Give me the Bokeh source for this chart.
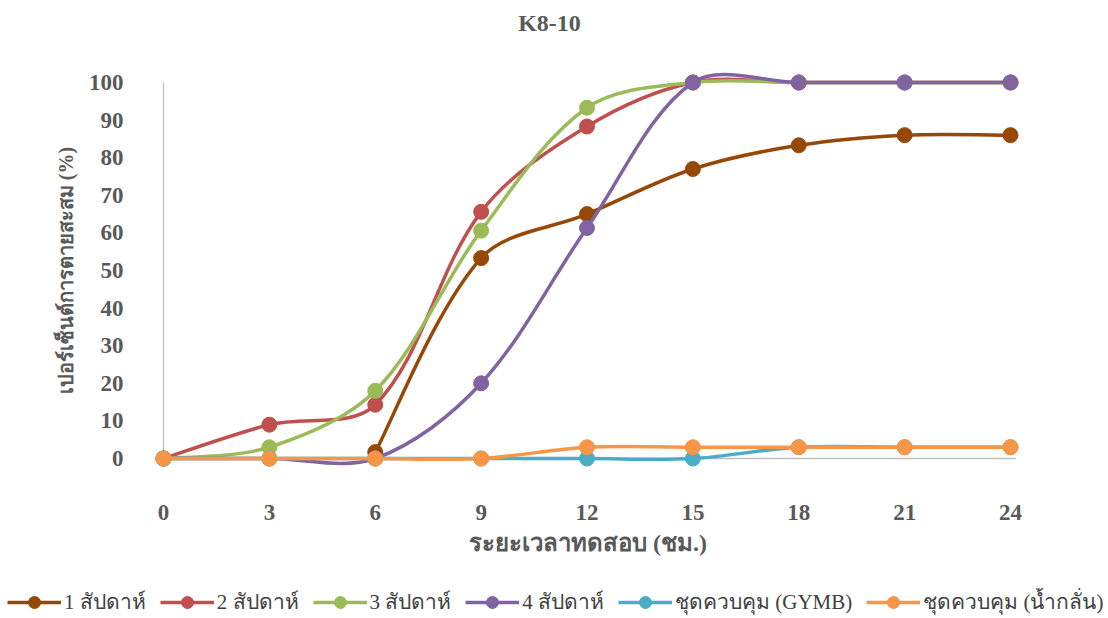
import math
from bokeh.plotting import figure
from bokeh.layouts import column
from bokeh.models import ColumnDataSource, Legend, LegendItem, Range1d, FixedTicker, Label
from bokeh.embed import file_html
from bokeh.resources import INLINE

# Test time (hours) and cumulative mortality (%) per treatment
hours = [0, 3, 6, 9, 12, 15, 18, 21, 24]
week1 = [None, None, 1.7, 53.3, 65.0, 77.0, 83.3, 86.0, 86.0]
week2 = [0, 9.0, 14.3, 65.6, 88.3, 100, 100, 100, 100]
week3 = [0, 3.0, 18.0, 60.6, 93.3, 100, 100, 100, 100]
week4 = [0, 0, 0, 20.0, 61.3, 100, 100, 100, 100]
ctrl_gymb = [0, 0, 0, 0, 0, 0, 3.0, 3.0, 3.0]
ctrl_water = [0, 0, 0, 0, 3.0, 3.0, 3.0, 3.0, 3.0]

series_names = ["1 สัปดาห์", "2 สัปดาห์", "3 สัปดาห์", "4 สัปดาห์",
                "ชุดควบคุม (GYMB)", "ชุดควบคุม (น้ำกลั่น)"]
series_values = [week1, week2, week3, week4, ctrl_gymb, ctrl_water]
series_colors = ["#974806", "#C0504D", "#9BBB59", "#8064A2", "#4BACC6", "#F79646"]

y_ticks = list(range(0, 101, 10))
chart_title = "K8-10"

SERIF = "Liberation Serif"
GREY = "#595959"
W = 1108
H_TITLE, H_MAIN, H_LEG = 44, 544, 30

# ---- title strip ----
head = figure(width=W, height=H_TITLE, output_backend="svg", toolbar_location=None,
              x_axis_type=None, y_axis_type=None, min_border=0,
              x_range=Range1d(0, W), y_range=Range1d(0, H_TITLE))
head.frame_align = False
head.outline_line_color = None
head.grid.visible = False
head.add_layout(Label(x=549, y=H_TITLE - 22, text=chart_title, text_font=SERIF,
                      text_font_size="24px", text_font_style="bold", text_color=GREY,
                      text_align="center", text_baseline="middle"))

# ---- main chart ----
# frame (page px): x 0..24 -> 163..1010, y 0..100 -> 458..82
fl, fr = 140, 1035
ft, fb = 60 - H_TITLE, 480 - H_TITLE
px_x = (1010 - 163) / 24.0
px_y = (458 - 82) / 100.0
x0 = -(163 - fl) / px_x
x1 = 24 + (fr - 1010) / px_x
y1 = 100 + (82 - 60) / px_y
y0 = -(480 - 458) / px_y

p = figure(width=W, height=H_MAIN, output_backend="svg", toolbar_location=None,
           x_range=Range1d(x0, x1), y_range=Range1d(y0, y1),
           min_border_left=fl, min_border_right=W - fr,
           min_border_top=ft, min_border_bottom=H_MAIN - fb)
p.frame_align = False
p.outline_line_color = None
p.background_fill_color = "white"
p.border_fill_color = "white"
p.grid.visible = False

for ax in (p.xaxis[0], p.yaxis[0]):
    ax.axis_line_color = None
    ax.major_tick_line_color = None
    ax.minor_tick_line_color = None
    ax.major_label_text_font = SERIF
    ax.major_label_text_font_size = "23px"
    ax.major_label_text_font_style = "bold"
    ax.major_label_text_color = GREY
    ax.axis_label_text_font = SERIF
    ax.axis_label_text_font_style = "bold"
    ax.axis_label_text_color = GREY

p.xaxis.axis_label_text_font_size = "24px"
p.yaxis.axis_label_text_font_size = "20px"
p.xaxis.ticker = FixedTicker(ticks=hours)
p.yaxis.ticker = FixedTicker(ticks=y_ticks)
p.xaxis.major_label_standoff = 18
p.yaxis.major_label_standoff = 11
p.xaxis.axis_label = "ระยะเวลาทดสอบ (ชม.)"
p.yaxis.axis_label = "เปอร์เซ็นต์การตายสะสม (%)"
p.xaxis.axis_label_standoff = 7
p.yaxis.axis_label_standoff = 9

# axis lines through the origin
p.segment(x0=[hours[0]], y0=[0], x1=[hours[0]], y1=[y_ticks[-1]],
          line_color="#BFBFBF", line_width=1.3)
p.segment(x0=[hours[0]], y0=[0], x1=[hours[-1] + 0.15], y1=[0],
          line_color="#BFBFBF", line_width=1.3)


def smooth_segments(xs, ys):
    """Cubic Bezier pieces through the points; tangents weighted by the
    on-screen length of the neighbouring segments to limit overshoot."""
    pts = [(x, y) for x, y in zip(xs, ys) if y is not None]
    n = len(pts)

    def dist(a, b):
        return math.hypot((b[0] - a[0]) * px_x, (b[1] - a[1]) * px_y)

    out = {k: [] for k in ("x0", "y0", "x1", "y1", "cx0", "cy0", "cx1", "cy1")}
    for i in range(n - 1):
        pm = pts[i - 1] if i > 0 else pts[i]
        pa = pts[i]
        pb = pts[i + 1]
        pn = pts[i + 2] if i + 2 < n else pts[i + 1]
        dab = dist(pa, pb)
        fa = dab / (dist(pm, pa) + dab) / 3.0 if i > 0 else 1 / 6.0
        fb_ = dab / (dab + dist(pb, pn)) / 3.0 if i + 2 < n else 1 / 6.0
        out["x0"].append(pa[0]); out["y0"].append(pa[1])
        out["x1"].append(pb[0]); out["y1"].append(pb[1])
        out["cx0"].append(pa[0] + (pb[0] - pm[0]) * fa)
        out["cy0"].append(pa[1] + (pb[1] - pm[1]) * fa)
        out["cx1"].append(pb[0] - (pn[0] - pa[0]) * fb_)
        out["cy1"].append(pb[1] - (pn[1] - pa[1]) * fb_)
    return out


for name, vals, col in zip(series_names, series_values, series_colors):
    seg = ColumnDataSource(smooth_segments(hours, vals))
    p.bezier(x0="x0", y0="y0", x1="x1", y1="y1", cx0="cx0", cy0="cy0",
             cx1="cx1", cy1="cy1", source=seg, line_color=col, line_width=3.5)
    xs = [x for x, v in zip(hours, vals) if v is not None]
    ys = [v for v in vals if v is not None]
    p.scatter(xs, ys, size=15, fill_color=col, line_color=col, marker="circle")

# ---- legend strip under the chart ----
# its view range lies away from the data, so only the legend keys show
leg = figure(width=W, height=H_LEG, output_backend="svg", toolbar_location=None,
             x_axis_type=None, y_axis_type=None, min_border=0,
             x_range=Range1d(-200, -199), y_range=Range1d(-200, -199))
leg.frame_align = False
leg.outline_line_color = None
leg.grid.visible = False
items = []
for name, vals, col in zip(series_names, series_values, series_colors):
    xs = [x for x, v in zip(hours, vals) if v is not None]
    ys = [v for v in vals if v is not None]
    ln = leg.line(xs, ys, line_color=col, line_width=3.5)
    dt = leg.scatter(xs, ys, size=15, fill_color=col, line_color=col, marker="circle")
    items.append(LegendItem(label=name, renderers=[ln, dt]))
legend = Legend(items=items, orientation="horizontal", location=(7, 0),
                label_text_font=SERIF, label_text_font_size="21px", label_text_color="#404040",
                glyph_width=54, glyph_height=30, label_standoff=3, spacing=14,
                padding=0, margin=0, border_line_color=None, background_fill_alpha=0)
leg.add_layout(legend, "center")

page = column(head, p, leg, spacing=0)
open("out.html", "w").write(file_html(page, INLINE))
